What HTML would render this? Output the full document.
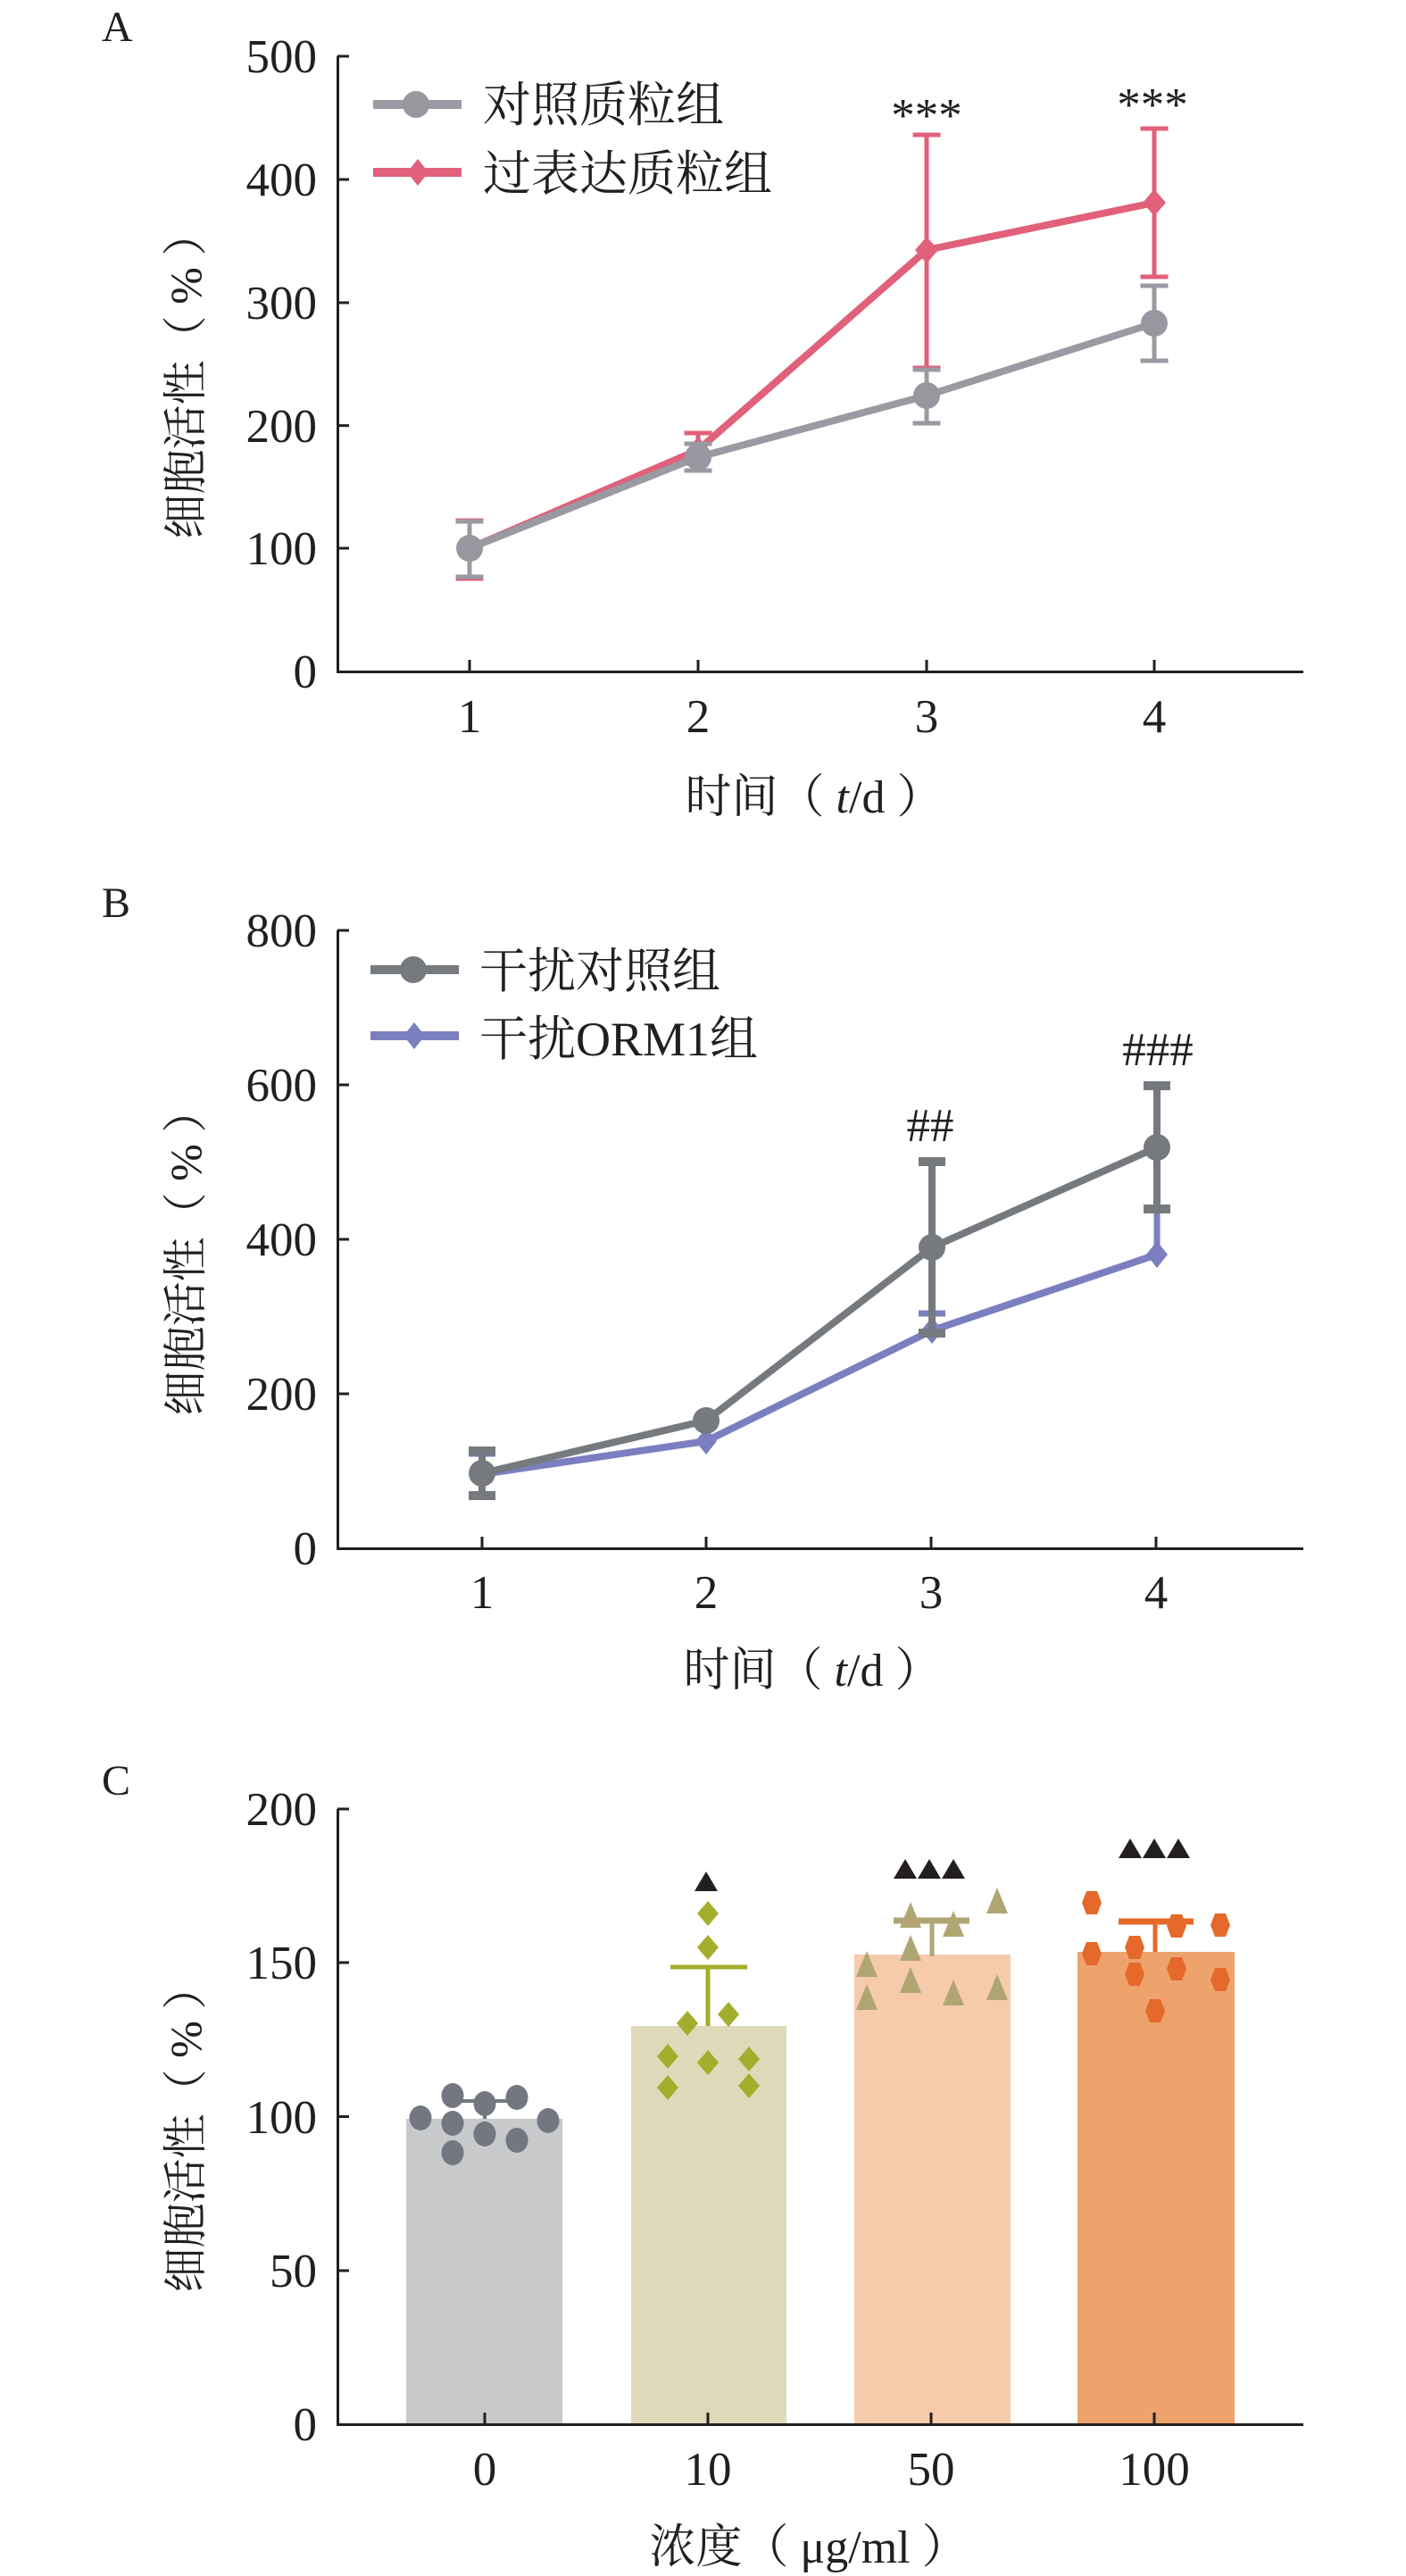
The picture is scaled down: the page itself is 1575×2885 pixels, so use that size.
<!DOCTYPE html>
<html>
<head>
<meta charset="utf-8">
<style>
  html,body{margin:0;padding:0;background:#fff;}
  svg{display:block;}
  text{font-family:"Liberation Serif","Noto Serif CJK SC",serif;fill:#231f20;}
</style>
</head>
<body>
<svg width="1575" height="2885" viewBox="0 0 1575 2885" xmlns="http://www.w3.org/2000/svg">
<rect width="1575" height="2885" fill="#fff"/>

<!-- ================= PANEL A ================= -->
<text x="114" y="46" font-size="48">A</text>
<g stroke="#231f20" stroke-width="3" fill="none">
  <path d="M378.5 63 V752.5 H1460"/>
  <path d="M378 63 H391 M378 201 H391 M378 339 H391 M378 476.6 H391 M378 614 H391"/>
  <path d="M526 752 V739 M782 752 V739 M1038 752 V739 M1293 752 V739"/>
</g>
<g font-size="53" text-anchor="end">
  <text x="355" y="81">500</text>
  <text x="355" y="219">400</text>
  <text x="355" y="357">300</text>
  <text x="355" y="495">200</text>
  <text x="355" y="632">100</text>
  <text x="355" y="770">0</text>
</g>
<g font-size="53" text-anchor="middle">
  <text x="526" y="820">1</text>
  <text x="782" y="820">2</text>
  <text x="1038" y="820">3</text>
  <text x="1293" y="820">4</text>
</g>
<text transform="translate(208,420) rotate(-90)" font-size="50" text-anchor="middle" dominant-baseline="central">细胞活性（ % ）</text>
<text x="912" y="910" font-size="52" text-anchor="middle">时间（ <tspan font-style="italic">t</tspan>/d ）</text>

<!-- red series -->
<g stroke="#e1607a" fill="none">
  <g stroke-width="5">
    <path d="M526 583 V648 M510.5 583 H541.5 M510.5 648 H541.5"/>
    <path d="M782 485 V512 M766.5 485 H797.5"/>
    <path d="M1038 151 V412 M1022.5 151 H1053.5 M1022.5 412 H1053.5"/>
    <path d="M1293 144 V310 M1277.5 144 H1308.5 M1277.5 310 H1308.5"/>
  </g>
  <polyline stroke-width="8" stroke-linejoin="round" points="526,614 782,504 1038,280 1293,227"/>
</g>
<g fill="#e1607a">
  <polygon points="782,489 795,504 782,519 769,504"/>
  <polygon points="1038,265 1051,280 1038,295 1025,280"/>
  <polygon points="1293,212 1306,227 1293,242 1280,227"/>
</g>
<!-- gray series -->
<g stroke="#9a9aa2" fill="none">
  <g stroke-width="5">
    <path d="M526 584 V646 M510.5 584 H541.5 M510.5 646 H541.5"/>
    <path d="M782 497 V527 M766.5 497 H797.5 M766.5 527 H797.5"/>
    <path d="M1038 414 V474 M1022.5 414 H1053.5 M1022.5 474 H1053.5"/>
    <path d="M1293 320 V404 M1277.5 320 H1308.5 M1277.5 404 H1308.5"/>
  </g>
  <polyline stroke-width="8" stroke-linejoin="round" points="526,614 782,512 1038,443 1293,362"/>
</g>
<g fill="#97979f">
  <circle cx="526" cy="614" r="15"/>
  <circle cx="782" cy="512" r="15"/>
  <circle cx="1038" cy="443" r="15"/>
  <circle cx="1293" cy="362" r="15"/>
</g>
<text x="1038" y="147" font-size="53" text-anchor="middle">***</text>
<text x="1291" y="135" font-size="53" text-anchor="middle">***</text>
<!-- legend A -->
<line x1="418" y1="117" x2="517" y2="117" stroke="#9a9aa2" stroke-width="10"/>
<circle cx="466" cy="117" r="15" fill="#97979f"/>
<line x1="418" y1="193" x2="517" y2="193" stroke="#e1607a" stroke-width="10"/>
<polygon points="468,178 480,193 468,208 456,193" fill="#e1607a"/>
<text x="541" y="136" font-size="54">对照质粒组</text>
<text x="541" y="213" font-size="54">过表达质粒组</text>

<!-- ================= PANEL B ================= -->
<text x="114" y="1027" font-size="48">B</text>
<g stroke="#231f20" stroke-width="3" fill="none">
  <path d="M378.5 1042 V1734.5 H1460"/>
  <path d="M378 1042 H391 M378 1215 H391 M378 1388 H391 M378 1561 H391"/>
  <path d="M540 1734 V1721 M791 1734 V1721 M1043 1734 V1721 M1295 1734 V1721"/>
</g>
<g font-size="53" text-anchor="end">
  <text x="355" y="1060">800</text>
  <text x="355" y="1233">600</text>
  <text x="355" y="1406">400</text>
  <text x="355" y="1579">200</text>
  <text x="355" y="1752">0</text>
</g>
<g font-size="53" text-anchor="middle">
  <text x="540" y="1801">1</text>
  <text x="791" y="1801">2</text>
  <text x="1043" y="1801">3</text>
  <text x="1295" y="1801">4</text>
</g>
<text transform="translate(208,1402) rotate(-90)" font-size="50" text-anchor="middle" dominant-baseline="central">细胞活性（ % ）</text>
<text x="910" y="1888" font-size="52" text-anchor="middle">时间（ <tspan font-style="italic">t</tspan>/d ）</text>

<!-- blue series -->
<g stroke="#7b7fc0" fill="none">
  <g stroke-width="7">
    <path d="M540 1628 V1651 M525 1628 H555"/>
    <path d="M1044 1471 V1490 M1029 1471 H1059"/>
    <path d="M1296 1354 V1405 M1281 1354 H1311"/>
  </g>
  <polyline stroke-width="8" stroke-linejoin="round" points="540,1651 791,1614 1044,1490 1296,1405"/>
</g>
<g fill="#7b7fc0">
  <polygon points="540,1636 552,1651 540,1666 528,1651"/>
  <polygon points="791,1599 803,1614 791,1629 779,1614"/>
  <polygon points="1044,1475 1056,1490 1044,1505 1032,1490"/>
  <polygon points="1296,1390 1308,1405 1296,1420 1284,1405"/>
</g>
<!-- dark gray series -->
<g stroke="#767a7f" fill="none">
  <g stroke-width="8">
    <path d="M540 1625 V1675"/>
    <path d="M1044 1301 V1493"/>
    <path d="M1296 1216 V1354"/>
  </g>
  <g stroke-width="10">
    <path d="M525 1625 H555 M525 1675 H555"/>
    <path d="M1029 1301 H1059 M1029 1493 H1059"/>
    <path d="M1281 1216 H1311 M1281 1354 H1311"/>
  </g>
  <polyline stroke-width="8" stroke-linejoin="round" points="540,1650 791,1591 1044,1397 1296,1285"/>
</g>
<g fill="#767a7f">
  <circle cx="540" cy="1650" r="15"/>
  <circle cx="791" cy="1591" r="15"/>
  <circle cx="1044" cy="1397" r="15"/>
  <circle cx="1296" cy="1285" r="15"/>
</g>
<text x="1042" y="1278" font-size="53" text-anchor="middle">##</text>
<text x="1297" y="1193" font-size="53" text-anchor="middle">###</text>
<!-- legend B -->
<line x1="415" y1="1086" x2="514" y2="1086" stroke="#767a7f" stroke-width="10"/>
<circle cx="463" cy="1086" r="15" fill="#767a7f"/>
<line x1="415" y1="1160" x2="514" y2="1160" stroke="#7b7fc0" stroke-width="10"/>
<polygon points="464,1145 476,1160 464,1175 452,1160" fill="#7b7fc0"/>
<text x="537" y="1106" font-size="54">干扰对照组</text>
<text x="537" y="1182" font-size="54">干扰ORM1组</text>

<!-- ================= PANEL C ================= -->
<text x="114" y="2010" font-size="48">C</text>
<rect x="455" y="2373" width="175" height="342" fill="#c8c9cb"/>
<rect x="707" y="2269" width="174" height="446" fill="#dedab9"/>
<rect x="957" y="2189" width="175" height="526" fill="#f5cbac"/>
<rect x="1207" y="2186" width="176" height="529" fill="#eea36d"/>
<g stroke="#231f20" stroke-width="3" fill="none">
  <path d="M378.5 2026 V2715.5 H1460"/>
  <path d="M378 2026 H391 M378 2198 H391 M378 2370.5 H391 M378 2543 H391"/>
  <path d="M543 2715 V2702 M793 2715 V2702 M1043 2715 V2702 M1293 2715 V2702"/>
</g>
<g font-size="53" text-anchor="end">
  <text x="355" y="2044">200</text>
  <text x="355" y="2216">150</text>
  <text x="355" y="2389">100</text>
  <text x="355" y="2561">50</text>
  <text x="355" y="2733">0</text>
</g>
<g font-size="53" text-anchor="middle">
  <text x="543" y="2783">0</text>
  <text x="793" y="2783">10</text>
  <text x="1043" y="2783">50</text>
  <text x="1293" y="2783">100</text>
</g>
<text transform="translate(208,2384) rotate(-90)" font-size="50" text-anchor="middle" dominant-baseline="central">细胞活性（ % ）</text>
<text x="906" y="2870" font-size="52" text-anchor="middle">浓度（ μg/ml ）</text>

<!-- error bars C -->
<path d="M507 2353 H579 M543 2353 V2373" stroke="#737880" stroke-width="4" fill="none"/>
<path d="M751 2203 H837 M793 2203 V2269" stroke="#a3ae2c" stroke-width="5" fill="none"/>
<path d="M1044 2151 V2191" stroke="#afa674" stroke-width="5" fill="none"/>
<path d="M1294 2152 V2186" stroke="#e4692a" stroke-width="5" fill="none"/>

<g fill="#737880">
  <ellipse cx="471" cy="2372" rx="12.5" ry="14"/>
  <ellipse cx="507" cy="2347" rx="12.5" ry="14"/>
  <ellipse cx="543" cy="2356" rx="12.5" ry="14"/>
  <ellipse cx="579" cy="2349" rx="12.5" ry="14"/>
  <ellipse cx="614" cy="2375" rx="12.5" ry="14"/>
  <ellipse cx="507" cy="2378" rx="12.5" ry="14"/>
  <ellipse cx="543" cy="2390" rx="12.5" ry="14"/>
  <ellipse cx="579" cy="2397" rx="12.5" ry="14"/>
  <ellipse cx="507" cy="2411" rx="12.5" ry="14"/>
</g>
<g fill="#a3ae2c">
  <polygon points="793,2129 805,2143 793,2157 781,2143"/>
  <polygon points="793,2167 805,2181 793,2195 781,2181"/>
  <polygon points="770,2252 782,2266 770,2280 758,2266"/>
  <polygon points="816,2242 828,2256 816,2270 804,2256"/>
  <polygon points="748,2289 760,2303 748,2317 736,2303"/>
  <polygon points="793,2296 805,2310 793,2324 781,2310"/>
  <polygon points="839,2292 851,2306 839,2320 827,2306"/>
  <polygon points="748,2324 760,2338 748,2352 736,2338"/>
  <polygon points="839,2322 851,2336 839,2350 827,2336"/>
</g>
<g fill="#afa674">
  <polygon points="1020,2130 1032,2159 1008,2159"/>
  <polygon points="1068,2140 1080,2169 1056,2169"/>
  <polygon points="1117,2114 1129,2143 1105,2143"/>
  <polygon points="1020,2167 1032,2196 1008,2196"/>
  <polygon points="971,2185 983,2214 959,2214"/>
  <polygon points="1020,2203 1032,2232 1008,2232"/>
  <polygon points="971,2222 983,2251 959,2251"/>
  <polygon points="1068,2217 1080,2246 1056,2246"/>
  <polygon points="1117,2211 1129,2240 1105,2240"/>
</g>
<path d="M1001 2151 H1086" stroke="#afa674" stroke-width="7"/>
<g fill="#e4692a">
  <polygon points="1212,2131 1217,2118 1229,2118 1234,2131 1229,2144 1217,2144"/>
  <polygon points="1307,2157 1312,2144 1324,2144 1329,2157 1324,2170 1312,2170"/>
  <polygon points="1356,2156 1361,2143 1373,2143 1378,2156 1373,2169 1361,2169"/>
  <polygon points="1212,2188 1217,2175 1229,2175 1234,2188 1229,2201 1217,2201"/>
  <polygon points="1260,2181 1265,2168 1277,2168 1282,2181 1277,2194 1265,2194"/>
  <polygon points="1260,2211 1265,2198 1277,2198 1282,2211 1277,2224 1265,2224"/>
  <polygon points="1307,2205 1312,2192 1324,2192 1329,2205 1324,2218 1312,2218"/>
  <polygon points="1356,2217 1361,2204 1373,2204 1378,2217 1373,2230 1361,2230"/>
  <polygon points="1283,2252 1288,2239 1300,2239 1305,2252 1300,2265 1288,2265"/>
</g>
<path d="M1253 2152 H1337" stroke="#e4692a" stroke-width="7"/>

<g fill="#231f20">
  <polygon points="791,2096 804,2118 778,2118"/>
  <polygon points="1014,2082 1027,2104 1001,2104"/>
  <polygon points="1041,2082 1054,2104 1028,2104"/>
  <polygon points="1068,2082 1081,2104 1055,2104"/>
  <polygon points="1266,2059 1279,2081 1253,2081"/>
  <polygon points="1293,2059 1306,2081 1280,2081"/>
  <polygon points="1320,2059 1333,2081 1307,2081"/>
</g>
</svg>
</body>
</html>
